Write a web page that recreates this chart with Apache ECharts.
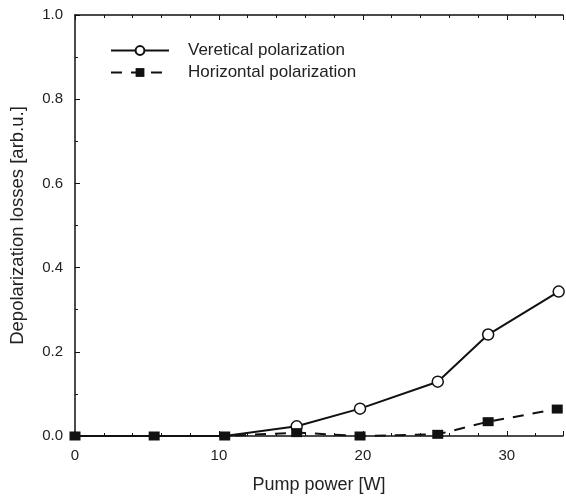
<!DOCTYPE html>
<html><head><meta charset="utf-8">
<script src="https://cdn.jsdelivr.net/npm/echarts@6/dist/echarts.min.js"></script>
<style>html,body{margin:0;padding:0;background:#fff}#c{width:566px;height:499px}</style>
</head><body><div id="c"></div>
<script>
const xVert = [0, 5.5, 10.4, 15.4, 19.8, 25.2, 28.7, 33.6];
const yVert = [0, 0, 0, 0.023, 0.065, 0.129, 0.241, 0.343];
const xHorz = [0, 5.5, 10.4, 15.4, 19.8, 25.2, 28.7, 33.5];
const yHorz = [0, 0, 0, 0.008, 0, 0.004, 0.034, 0.064];
const xTicks = [0, 10, 20, 30];
const yTicks = [0.0, 0.2, 0.4, 0.6, 0.8, 1.0];
const seriesNames = ['Veretical polarization', 'Horizontal polarization'];

const font = 'Liberation Sans, Arial, sans-serif';
const axisColor = '#111';
const chart = echarts.init(document.getElementById('c'));
const pairs = (xs, ys) => xs.map((x, i) => [x, ys[i]]);
chart.setOption({
  animation: false,
  backgroundColor: '#fff',
  grid: {left: 75, right: 0, top: 15, bottom: 62},
  legend: {
    left: 105, top: 37, orient: 'vertical', itemWidth: 58, itemHeight: 11, itemGap: 5,
    textStyle: {fontFamily: font, fontSize: 17, color: '#222', padding: [4, 0, 0, 14]},
    data: seriesNames
  },
  xAxis: [{
    type: 'value', min: 0, max: 33.9, interval: 10, position: 'bottom',
    name: 'Pump power [W]', nameLocation: 'middle', nameGap: 40,
    nameTextStyle: {fontFamily: font, fontSize: 18, color: '#222'},
    axisLine: {show: true, onZero: false, lineStyle: {color: axisColor, width: 1.5}},
    axisTick: {show: true, inside: true, length: 5, lineStyle: {color: axisColor}},
    minorTick: {show: true, splitNumber: 5, length: 3, lineStyle: {color: axisColor}},
    axisLabel: {fontFamily: font, fontSize: 15, color: '#222', margin: 12,
      formatter: v => xTicks.includes(v) ? String(v) : ''},
    splitLine: {show: false}
  }, {
    type: 'value', min: 0, max: 33.9, interval: 10, position: 'top',
    axisLine: {show: true, onZero: false, lineStyle: {color: axisColor, width: 1.5}},
    axisTick: {show: true, inside: true, length: 5, lineStyle: {color: axisColor}},
    minorTick: {show: true, splitNumber: 5, length: 3, lineStyle: {color: axisColor}},
    axisLabel: {show: false}, splitLine: {show: false}
  }],
  yAxis: {
    type: 'value', min: 0, max: 1, interval: 0.2,
    name: 'Depolarization losses [arb.u.]', nameLocation: 'middle', nameGap: 48,
    nameTextStyle: {fontFamily: font, fontSize: 18.5, color: '#222'},
    axisLine: {show: true, onZero: false, lineStyle: {color: axisColor, width: 1.5}},
    axisTick: {show: true, inside: true, length: 5, lineStyle: {color: axisColor}},
    minorTick: {show: true, splitNumber: 2, length: 3, lineStyle: {color: axisColor}},
    axisLabel: {fontFamily: font, fontSize: 15, color: '#222', margin: 12,
      formatter: v => yTicks.some(t => Math.abs(t - v) < 1e-9) ? v.toFixed(1) : ''},
    splitLine: {show: false}
  },
  series: [{
    name: seriesNames[0], type: 'line',
    data: pairs(xVert, yVert).map(p => p[1] === 0 ? {value: p, symbol: 'none'} : p),
    symbol: 'circle', symbolSize: 11, z: 2,
    lineStyle: {color: '#111', width: 2},
    itemStyle: {color: '#fff', borderColor: '#111', borderWidth: 1.5}
  }, {
    name: seriesNames[1], type: 'line', data: pairs(xHorz, yHorz),
    symbol: 'rect', symbolSize: [11, 9], z: 3,
    lineStyle: {color: '#111', width: 2, type: [11, 9]},
    itemStyle: {color: '#111', borderColor: '#111', borderWidth: 0}
  }]
});
</script></body></html>
